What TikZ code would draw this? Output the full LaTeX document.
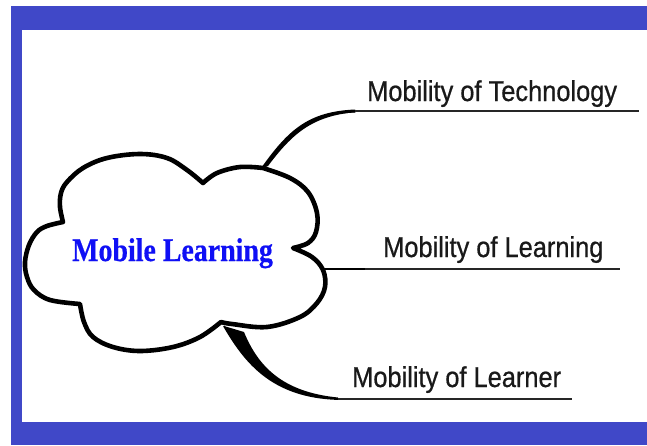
\documentclass[tikz,border=0pt]{standalone}
\usepackage{fontspec}
\setmainfont{Liberation Sans}
\newfontfamily\lblfont[FakeBold=0.7]{Liberation Sans}
\newfontfamily\tnr[FakeBold=0.5]{Liberation Serif}
\definecolor{frameblue}{RGB}{64,72,200}
\definecolor{mlblue}{RGB}{15,15,245}
\begin{document}
\begin{tikzpicture}[x=1pt,y=-1pt,
  cloudline/.style={line width=4.6pt, line join=round, line cap=round, draw=black, fill=white},
  baseline/.style={line width=1.4pt, draw=black!85},
  label/.style={anchor=base west, inner sep=0pt, font=\lblfont\fontsize{25.4}{30}\selectfont, text=black!90},
  title/.style={anchor=base west, inner sep=0pt, font=\tnr\bfseries\fontsize{27.9}{32}\selectfont, text=mlblue}]
\useasboundingbox (0,0) rectangle (647,445);
\fill[white] (0,0) rectangle (647,445);
\fill[frameblue] (11,6) rectangle (647,445);
\fill[white] (22,30) rectangle (647,422);

% cloud
\draw[cloudline] (63,222)
 -- plot[smooth, tension=0.6] coordinates {(63,222) (60,207) (61,193) (67,182) (83,168) (107,158) (140,154) (167,158) (187,170) (203,183)}
 -- plot[smooth, tension=0.6] coordinates {(203,183) (217,173) (240,167) (263,168)}
 -- plot[smooth, tension=0.6] coordinates {(263,168) (290,178) (308,192) (317,213) (316,232) (308,243) (293,248)}
 -- plot[smooth, tension=0.6] coordinates {(293,248) (312,257) (323,270) (325,287) (317,303) (300,317) (267,327) (232,324) (221,322)}
 -- plot[smooth, tension=0.6] coordinates {(221,322) (200,337) (173,347) (140,351) (113,347) (93,337) (84,322) (80,304)}
 -- plot[smooth, tension=0.6] coordinates {(80,304) (50,300) (34,290) (27,277) (25,262) (29,245) (37,232) (47,226) (63,222)}
 -- cycle;

% coordinates of connector ends
\coordinate (jt) at (263,168);
\coordinate (jt2) at (268,166);
\coordinate (t1) at (355,111);
\coordinate (t2) at (639,111);
\coordinate (jl) at (324,269);
\coordinate (l1) at (365,269);
\coordinate (l2) at (620,269);
\coordinate (jr) at (224,326);
\coordinate (jr2) at (244,332);
\coordinate (r1) at (338,399);
\coordinate (r1b) at (338,397.5);
\coordinate (r2) at (572,399);

% texts
\node[title] (ml) at (72,261) {\scalebox{1}[1.18]{Mobile Learning}};
\node[label] (tech) at (367,101) {\scalebox{1}[1.13]{Mobility of Technology}};
\node[label] (lrng) at (383,257) {\scalebox{1}[1.13]{Mobility of Learning}};
\node[label] (lrnr) at (352,387) {\scalebox{1}[1.13]{Mobility of Learner}};

% connectors
\fill[black] (jt) .. controls (290,130) and (310,112) .. (t1) -- (355,112.2) .. controls (312,116) and (292,134) .. (jt2) -- cycle;
\draw[line width=3pt, line cap=round] (jt) .. controls (290,130) and (310,113) .. (t1);
\draw[baseline] (t1) -- (t2);
\draw[line width=2.6pt] (jl) -- (l1);
\draw[baseline] (l1) -- (l2);
\fill[black] (jr) .. controls (245,362) and (272,397) .. (r1) -- (r1b) .. controls (282,392) and (258,366) .. (jr2) -- cycle;
\draw[line width=1.8pt] (jr) .. controls (245,362) and (272,397) .. (r1);
\draw[baseline] (r1) -- (r2);
\end{tikzpicture}
\end{document}
